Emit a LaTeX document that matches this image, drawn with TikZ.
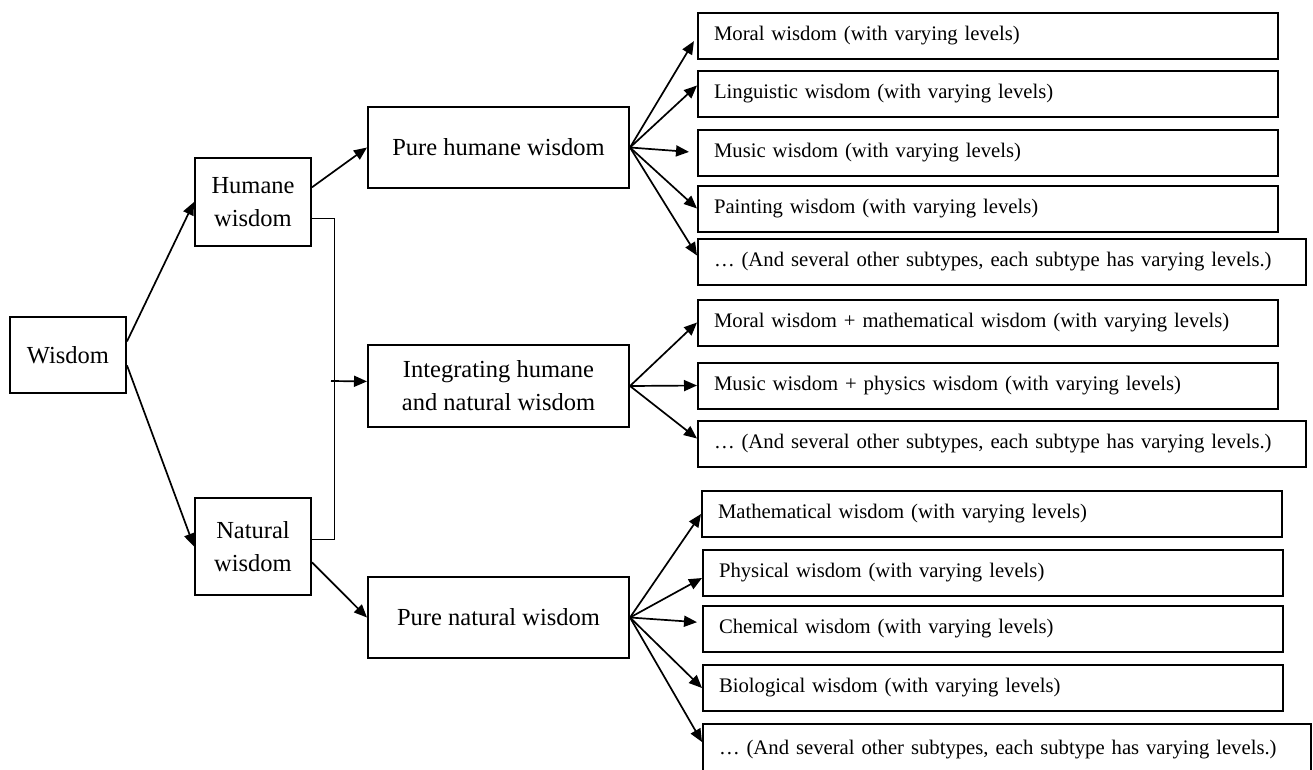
\documentclass[tikz,border=0pt]{standalone}
\usepackage{fontspec}
\setmainfont{Liberation Serif}
\usetikzlibrary{arrows.meta}

\begin{document}
\begin{tikzpicture}[x=1pt,y=-1pt,
  box/.style={draw,line width=2pt,align=center,inner sep=0pt,font=\fontsize{24.5}{33}\selectfont},
  leaf/.style={draw,line width=2pt,anchor=west,minimum height=46pt,inner xsep=16pt,inner ysep=0pt,text width=548pt,align=left,font=\fontsize{20.7}{25}\selectfont},
  wide/.style={text width=576pt},
  arr/.style={-{Triangle[length=13pt,width=11pt]},line width=1.7pt}]
\useasboundingbox (0,0) rectangle (1313,769);
% main boxes
\node[box,minimum width=116pt,minimum height=76pt] (W) at (68,355) {Wisdom};
\node[box,minimum width=116pt,minimum height=88pt] (H) at (253,202) {Humane\\wisdom};
\node[box,minimum width=116pt,minimum height=97pt] (N) at (253,546.5) {Natural\\wisdom};
\node[box,minimum width=261pt,minimum height=81pt] (PH) at (498.5,147.5) {Pure humane wisdom};
\node[box,minimum width=261pt,minimum height=82pt] (IN) at (498.5,386) {Integrating humane\\and natural wisdom};
\node[box,minimum width=261pt,minimum height=81pt] (PN) at (498.5,617.5) {Pure natural wisdom};
% humane subtypes
\node[leaf] (H1) at (697,36) {Moral wisdom (with varying levels)};
\node[leaf] (H2) at (697,93.5) {Linguistic wisdom (with varying levels)};
\node[leaf] (H3) at (697,152.5) {Music wisdom (with varying levels)};
\node[leaf] (H4) at (697,208.5) {Painting wisdom (with varying levels)};
\node[leaf,wide] (H5) at (697,261.5) {… (And several other subtypes, each subtype has varying levels.)};
% integrating subtypes
\node[leaf] (I1) at (697,322.5) {Moral wisdom + mathematical wisdom (with varying levels)};
\node[leaf] (I2) at (697,385.5) {Music wisdom + physics wisdom (with varying levels)};
\node[leaf,wide] (I3) at (697,443.5) {… (And several other subtypes, each subtype has varying levels.)};
% natural subtypes
\node[leaf] (N1) at (701,514) {Mathematical wisdom (with varying levels)};
\node[leaf] (N2) at (702,573) {Physical wisdom (with varying levels)};
\node[leaf] (N3) at (702,628.5) {Chemical wisdom (with varying levels)};
\node[leaf] (N4) at (702,688) {Biological wisdom (with varying levels)};
\node[leaf,wide,minimum height=52pt] (N5) at (702,750) {… (And several other subtypes, each subtype has varying levels.)};
% first split
\draw[arr] (W.13) -- (H.west);
\draw[arr] (W.-10) -- (N.west);
\draw[arr] (H.14) -- (PH.west);
\draw[arr] (N.-15) -- (PN.west);
% bracket joining humane and natural
\coordinate (BR) at (334,381);
\coordinate (J) at (331,381);
\draw[line width=1pt] (H.-16) -- (H.-16 -| BR) -- (N.7 -| BR) -- (N.7);
\draw[arr] (J) -- (IN.178);
% fans
\draw[arr,shorten >=6pt] (PH.east) -- (H1.west);
\draw[arr] (PH.east) -- ([yshift=8pt]H2.west);
\draw[arr,shorten >=8pt] (PH.east) -- (H3.west);
\draw[arr] (PH.east) -- (H4.west);
\draw[arr] (PH.east) -- ([yshift=6pt]H5.west);
\draw[arr] (IN.east) -- (I1.west);
\draw[arr] (IN.east) -- (I2.west);
\draw[arr] (IN.east) -- ([yshift=5pt]I3.west);
\draw[arr] (PN.east) -- (N1.west);
\draw[arr] (PN.east) -- ([yshift=-5pt]N2.west);
\draw[arr,shorten >=5pt] (PN.east) -- ([yshift=6pt]N3.west);
\draw[arr] (PN.east) -- (N4.west);
\draw[arr] (PN.east) -- ([yshift=8pt]N5.west);
\end{tikzpicture}
\end{document}
